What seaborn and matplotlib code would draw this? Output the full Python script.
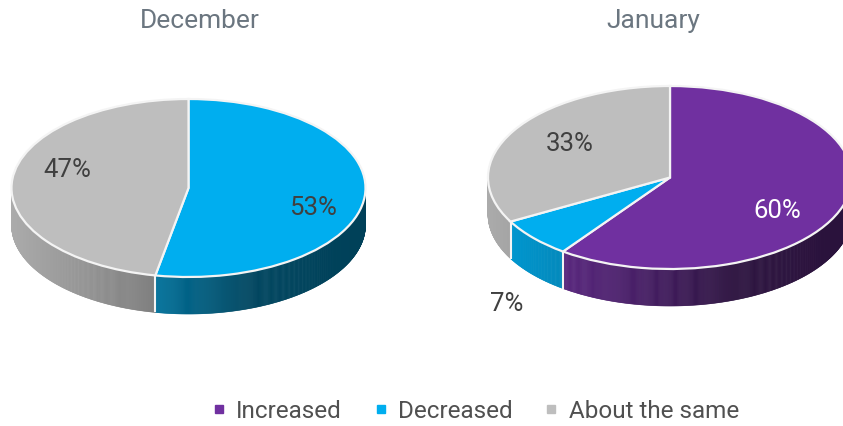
import numpy as np
import matplotlib
matplotlib.use("Agg")
import matplotlib.pyplot as plt
from matplotlib.collections import PolyCollection
from matplotlib.lines import Line2D
import seaborn as sns

# Survey answers, in percent
categories = ["Increased", "Decreased", "About the same"]
december_values = [0, 53, 47]
january_values = [60, 7, 33]
months = ["December", "January"]
slice_colors = ["#7030A0", "#00AEEF", "#BEBEBE"]
label_colors = {
    "December": ["#404040", "#404040", "#404040"],
    "January": ["#FFFFFF", "#404040", "#404040"],
}

FIG_W, FIG_H = 843, 427
DEPTH_PX = 37

sns.set_theme(style="white")
plt.rcParams["font.family"] = ["Roboto", "DejaVu Sans"]
palette = sns.color_palette(slice_colors)

fig = plt.figure(figsize=(FIG_W / 100, FIG_H / 100), dpi=100, facecolor="white")

# Ellipse centre and half-axes in pixels, plus label anchors in pixels
layouts = {
    "December": dict(cx=188.5, cy=189, a=177, b=89, title_x=200,
                     labels={1: (313, 208), 2: (67, 170)}),
    "January": dict(cx=670, cy=178.5, a=182, b=91.5, title_x=653,
                    labels={0: (777, 211), 1: (507, 304), 2: (570, 144)}),
}


def shade(u):
    """Brightness of the rim as a function of horizontal position on the disc."""
    return np.interp(u, [-1, -0.58, -0.2, 0.35, 1], [0.90, 0.78, 0.65, 0.40, 0.37])


def draw_pie(month, values):
    lay = layouts[month]
    cx, cy, a, b = lay["cx"], lay["cy"], lay["a"], lay["b"]
    depth = DEPTH_PX / b
    pad = 1.12
    bottom_units = pad + depth

    left_px = cx - a * pad
    width_px = 2 * a * pad
    top_px = cy - b * pad
    height_px = b * (pad + bottom_units)
    ax = fig.add_axes([left_px / FIG_W, 1 - (top_px + height_px) / FIG_H,
                       width_px / FIG_W, height_px / FIG_H])

    shown = [i for i, v in enumerate(values) if v > 0]
    shown_values = [values[i] for i in shown]
    shown_colors = [palette[i] for i in shown]

    wedges, _ = ax.pie(shown_values, colors=shown_colors, startangle=90,
                       counterclock=False, radius=1, normalize=True,
                       wedgeprops=dict(edgecolor="#F4F4F4", linewidth=1.6, zorder=3))
    ax.set_aspect("auto")
    ax.set_xlim(-pad, pad)
    ax.set_ylim(-bottom_units, pad)

    # Rim of the disc: thin shaded strips along the front half of every slice
    total = sum(shown_values)
    start = 0.0
    for value, color in zip(shown_values, shown_colors):
        stop = start + 360.0 * value / total
        lo, hi = max(start, 90.0), min(stop, 270.0)
        if hi > lo:
            angles = np.radians(np.linspace(lo, hi, int((hi - lo) * 3) + 2))
            xs, ys = np.sin(angles), np.cos(angles)
            quads, faces = [], []
            for k in range(len(angles) - 1):
                quads.append([(xs[k], ys[k]), (xs[k + 1], ys[k + 1]),
                              (xs[k + 1], ys[k + 1] - depth), (xs[k], ys[k] - depth)])
                faces.append(np.array(color) * shade((xs[k] + xs[k + 1]) / 2))
            ax.add_collection(PolyCollection(quads, facecolors=faces, edgecolors=faces,
                                             linewidths=0.4, zorder=1))
            # Light seam where two slices meet on the rim
            if stop < 270.0:
                ax.plot([xs[-1], xs[-1]], [ys[-1], ys[-1] - depth],
                        color="#F4F4F4", lw=1.5, zorder=2, solid_capstyle="butt")
        start = stop

    # Percentage labels, placed from pixel anchors converted to disc units
    for i, (px, py) in lay["labels"].items():
        ax.text((px - cx) / a, (cy - py) / b, f"{values[i]}%", ha="center", va="center",
                fontsize=LABEL_SIZE, color=label_colors[month][i], zorder=5)

    fig.text(lay["title_x"] / FIG_W, 1 - 21 / FIG_H, month, ha="center", va="center",
             fontsize=TITLE_SIZE, color="#6B7680")


LABEL_SIZE = 18.5
TITLE_SIZE = 19

draw_pie("December", december_values)
draw_pie("January", january_values)

handles = [Line2D([], [], linestyle="none", marker="s", markersize=5.2,
                  markerfacecolor=c, markeredgecolor=c) for c in palette]
fig.legend(handles, categories, ncol=3, frameon=False, fontsize=17.5,
           loc="center", bbox_to_anchor=(476 / FIG_W, 1 - 412 / FIG_H),
           handlelength=0.5, handletextpad=0.45, columnspacing=1.35,
           labelcolor="#505050")

fig.savefig("out.png", dpi=100)
